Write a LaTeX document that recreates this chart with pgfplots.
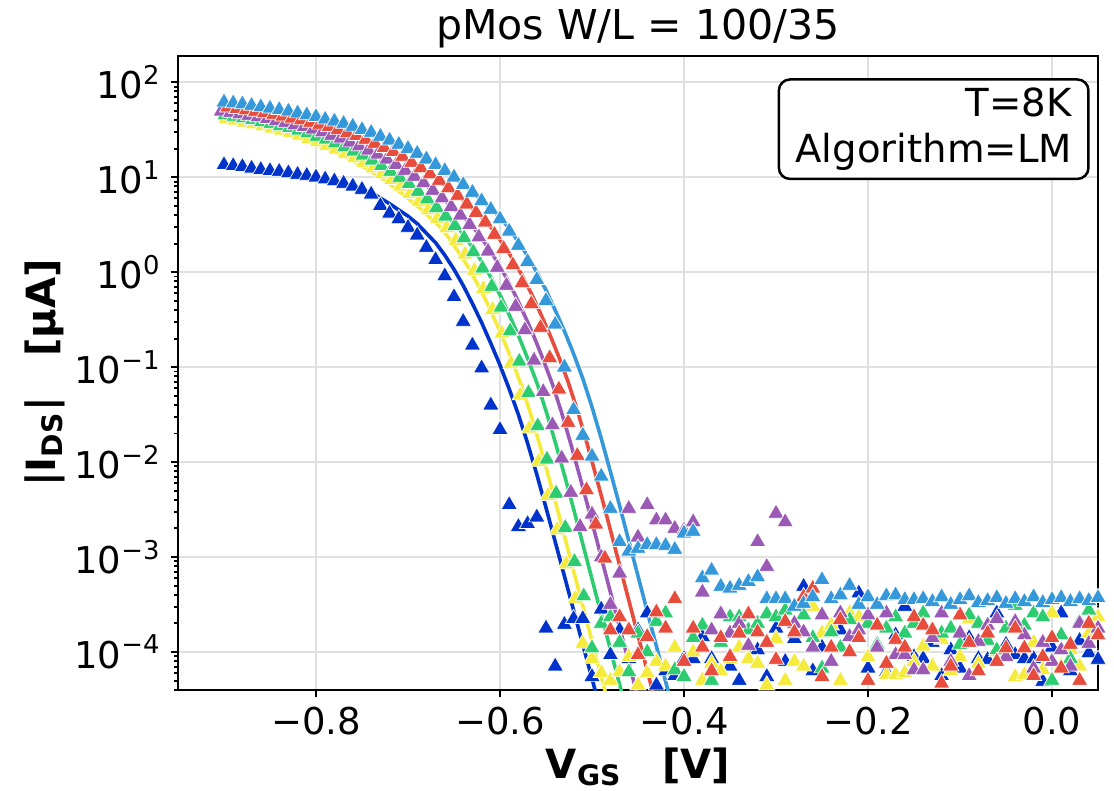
\documentclass[border=0pt]{standalone}
\usepackage{fontspec}
\setmainfont{DejaVu Sans}
\usepackage{pgfplots}
\pgfplotsset{compat=1.18}
\definecolor{cB}{RGB}{0,51,204}
\definecolor{cY}{RGB}{245,235,60}
\definecolor{cG}{RGB}{46,204,113}
\definecolor{cP}{RGB}{155,89,182}
\definecolor{cR}{RGB}{231,76,60}
\definecolor{cL}{RGB}{52,152,219}
\pgfplotsset{
  meas/.style={only marks, mark=triangle*, mark size=3.4pt, color=#1, mark options={solid, fill=#1, draw=white, line width=0.25pt}},
  fit/.style={no marks, color=#1, line width=1.3pt},
}
\begin{document}
\begin{tikzpicture}
\begin{axis}[name=ax, scale only axis, width=331.2pt, height=228.24pt,
  ymode=log, xmin=-0.95, xmax=0.05, ymin=3.98e-5, ymax=189,
  xtick={-0.8,-0.6,-0.4,-0.2,0}, xticklabels={−0.8,−0.6,−0.4,−0.2,0.0},
  ytick={1e-4,1e-3,1e-2,1e-1,1,10,100},
  yticklabels={10\textsuperscript{−4},10\textsuperscript{−3},10\textsuperscript{−2},10\textsuperscript{−1},10\textsuperscript{0},10\textsuperscript{1},10\textsuperscript{2}},
  minor ytick={4e-5,5e-5,6e-5,7e-5,8e-5,9e-5,2e-4,3e-4,4e-4,5e-4,6e-4,7e-4,8e-4,9e-4,2e-3,3e-3,4e-3,5e-3,6e-3,7e-3,8e-3,9e-3,2e-2,3e-2,4e-2,5e-2,6e-2,7e-2,8e-2,9e-2,0.2,0.3,0.4,0.5,0.6,0.7,0.8,0.9,2,3,4,5,6,7,8,9,20,30,40,50,60,70,80,90},
  tick align=outside, xtick pos=bottom, ytick pos=left,
  major tick length=2.6pt, minor tick length=1.5pt,
  every tick/.style={black, line width=0.7pt},
  grid=major, major grid style={black!12, line width=0.6pt},
  axis line style={black, line width=0.9pt},
  tick label style={font=\fontsize{13.3}{16}\selectfont},
  title={pMos W/L = 100/35},
  every axis title/.style={at={(axis description cs:0.5,1.044)}, anchor=center, font=\fontsize{14.8}{17}\selectfont},
  xlabel={\textbf{V\textsubscript{GS}\quad[V]}},
  ylabel={\textbf{|I\textsubscript{DS}|\quad[µA]}},
  every axis x label/.style={at={(axis description cs:0.5,-0.121)}, anchor=center, font=\fontsize{14.5}{17}\selectfont},
  every axis y label/.style={at={(axis description cs:-0.145,0.5)}, anchor=center, rotate=90, font=\fontsize{14.5}{17}\selectfont},
  clip=true,
]
% ---------- blue ----------
\addplot[meas=cB] coordinates {
(-0.90,13.5) (-0.89,13.2) (-0.88,12.9) (-0.87,12.4) (-0.86,12.0) (-0.85,11.7) (-0.84,11.5) (-0.83,11.1) (-0.82,10.7) (-0.81,10.4)
(-0.80,10.0) (-0.79,9.55) (-0.78,9.12) (-0.77,8.61) (-0.76,8.04) (-0.75,7.41) (-0.74,6.61) (-0.73,5.01) (-0.72,4.17) (-0.71,3.63)
(-0.70,2.95) (-0.69,2.45) (-0.68,1.82) (-0.67,1.35) (-0.66,0.912) (-0.65,0.550) (-0.64,0.302) (-0.63,0.170) (-0.62,0.0977) (-0.61,0.0398)
(-0.60,0.0219) (-0.59,3.55e-3) (-0.58,2.09e-3) (-0.57,2.24e-3) (-0.56,2.63e-3) (-0.55,1.78e-4) (-0.54,7.08e-5) (-0.53,1.95e-4) (-0.52,2.24e-4) (-0.51,2.24e-4)
(-0.50,5.50e-5) (-0.49,2.82e-4) (-0.48,9.33e-5) (-0.47,1.70e-4) (-0.46,8.51e-5) (-0.45,1.70e-4) (-0.44,2.57e-4) (-0.43,4.47e-5) (-0.42,6.31e-5) (-0.41,5.62e-5)
(-0.40,8.51e-5) (-0.39,8.51e-5) (-0.38,1.45e-4) (-0.37,8.51e-5) (-0.36,2.57e-4) (-0.35,7.08e-5) (-0.34,5.01e-5) (-0.33,1.12e-4) (-0.32,1.05e-4) (-0.31,5.50e-5)
(-0.30,1.78e-4) (-0.29,7.94e-5) (-0.28,1.38e-4) (-0.27,4.90e-4) (-0.26,6.31e-5) (-0.25,1.12e-4) (-0.24,7.94e-5) (-0.23,1.70e-4) (-0.22,1.00e-4) (-0.21,4.17e-4)
(-0.20,6.76e-5) (-0.19,1.20e-4) (-0.18,6.17e-5) (-0.17,1.51e-4) (-0.16,3.02e-4) (-0.15,8.91e-5) (-0.14,8.51e-5) (-0.13,1.26e-4) (-0.12,5.62e-5) (-0.11,1.05e-4)
(-0.10,6.76e-5) (-0.09,1.41e-4) (-0.08,8.51e-5) (-0.07,8.32e-5) (-0.06,2.57e-4) (-0.05,1.20e-4) (-0.04,9.33e-5) (-0.03,8.51e-5) (-0.02,8.51e-5) (-0.01,4.90e-5)
(0.00,1.12e-4) (0.01,2.57e-4) (0.02,6.31e-5) (0.03,1.32e-4) (0.04,9.77e-5) (0.05,8.32e-5)
};
\addplot[fit=cB] coordinates {
(-0.90,13.5) (-0.88,12.9) (-0.86,12.0) (-0.84,11.5) (-0.82,10.7) (-0.80,10.0) (-0.78,9.12) (-0.76,8.13) (-0.74,6.92) (-0.72,5.25)
(-0.70,3.89) (-0.69,3.24) (-0.68,2.57) (-0.67,2.04) (-0.66,1.51) (-0.65,1.07) (-0.64,0.724) (-0.63,0.468) (-0.62,0.295) (-0.61,0.178)
(-0.60,0.105) (-0.59,0.0589) (-0.58,0.0316) (-0.57,0.0158) (-0.56,7.41e-3) (-0.55,3.31e-3) (-0.54,1.45e-3) (-0.53,6.31e-4) (-0.52,2.75e-4) (-0.51,1.20e-4)
(-0.50,5.25e-5) (-0.49,2.29e-5)
};
% ---------- yellow ----------
\addplot[meas=cY] coordinates {
(-0.898,41.2) (-0.888,39.8) (-0.878,38.0) (-0.868,36.3) (-0.858,34.7) (-0.848,32.7) (-0.838,31.3) (-0.828,29.5) (-0.818,27.6) (-0.808,25.4)
(-0.798,23.7) (-0.788,21.6) (-0.778,19.7) (-0.768,17.8) (-0.758,16.1) (-0.748,14.3) (-0.738,12.5) (-0.728,10.9) (-0.718,9.41) (-0.708,8.04)
(-0.698,6.69) (-0.688,5.56) (-0.678,4.52) (-0.668,3.67) (-0.658,2.92) (-0.648,2.16) (-0.638,1.54) (-0.628,1.04) (-0.618,0.669) (-0.608,0.403)
(-0.598,0.227) (-0.588,0.109) (-0.578,0.0507) (-0.568,0.0227) (-0.558,0.0101) (-0.548,4.42e-3) (-0.538,1.93e-3) (-0.528,8.44e-4) (-0.518,3.67e-4)
(-0.51,1.23e-4) (-0.50,8.51e-5) (-0.49,6.03e-5) (-0.48,5.01e-5) (-0.47,6.17e-5) (-0.46,8.91e-5) (-0.45,4.47e-5) (-0.44,6.03e-5) (-0.43,7.94e-5) (-0.42,7.08e-5)
(-0.41,1.12e-4) (-0.40,5.62e-5) (-0.39,1.00e-4) (-0.38,5.01e-5) (-0.37,7.59e-5) (-0.36,6.31e-5) (-0.35,8.51e-5) (-0.34,1.12e-4) (-0.33,8.51e-5) (-0.32,7.59e-5)
(-0.31,4.47e-5) (-0.30,1.38e-4) (-0.29,5.01e-5) (-0.28,7.94e-5) (-0.27,7.08e-5) (-0.26,3.02e-4) (-0.25,1.58e-4) (-0.24,1.91e-4) (-0.23,5.01e-5) (-0.22,2.57e-4)
(-0.21,2.34e-4) (-0.20,8.91e-5) (-0.19,1.10e-4) (-0.18,5.75e-5) (-0.17,5.75e-5) (-0.16,6.03e-5) (-0.15,7.94e-5) (-0.14,1.15e-4) (-0.13,7.08e-5) (-0.12,1.35e-4)
(-0.11,6.31e-5) (-0.10,8.91e-5) (-0.09,2.24e-4) (-0.08,7.59e-5) (-0.07,1.58e-4) (-0.06,1.00e-4) (-0.05,1.78e-4) (-0.04,5.50e-5) (-0.03,5.75e-5) (-0.02,1.26e-4)
(-0.01,6.46e-5) (0.00,2.57e-4) (0.01,7.24e-5) (0.02,1.05e-4) (0.03,7.08e-5) (0.04,1.58e-4) (0.05,2.34e-4)
};
\addplot[fit=cY] coordinates {
(-0.900,39.9) (-0.866,34.7) (-0.846,31.3) (-0.826,27.6) (-0.806,23.7) (-0.786,19.7) (-0.766,16.1) (-0.746,12.5) (-0.726,9.41) (-0.706,6.69)
(-0.686,4.62) (-0.666,3.06) (-0.656,2.32) (-0.646,1.68) (-0.636,1.19) (-0.626,0.804) (-0.616,0.519) (-0.606,0.320) (-0.596,0.193) (-0.586,0.111)
(-0.576,0.0610) (-0.566,0.0306) (-0.556,0.0143) (-0.546,6.38e-3) (-0.536,2.79e-3) (-0.526,1.19e-3) (-0.516,5.07e-4) (-0.506,2.16e-4) (-0.496,9.25e-5) (-0.486,3.94e-5)
(-0.476,1.68e-5)
};
% ---------- green ----------
\addplot[meas=cG] coordinates {
(-0.899,45.2) (-0.889,43.7) (-0.879,42.1) (-0.869,40.3) (-0.859,38.5) (-0.849,36.8) (-0.839,34.6) (-0.829,33.1) (-0.819,31.2) (-0.809,29.2)
(-0.799,26.9) (-0.789,25.1) (-0.779,22.9) (-0.769,20.8) (-0.759,18.8) (-0.749,17.0) (-0.739,15.1) (-0.729,13.2) (-0.719,11.5) (-0.709,9.96)
(-0.699,8.51) (-0.689,7.08) (-0.679,5.89) (-0.669,4.78) (-0.659,3.89) (-0.649,3.09) (-0.639,2.29) (-0.629,1.63) (-0.619,1.10) (-0.609,0.708)
(-0.599,0.426) (-0.589,0.240) (-0.579,0.115) (-0.569,0.0537) (-0.559,0.0240) (-0.549,0.0107) (-0.539,4.68e-3) (-0.529,2.04e-3) (-0.519,8.94e-4) (-0.509,3.89e-4)
(-0.50,1.10e-4) (-0.49,2.00e-4) (-0.48,2.34e-4) (-0.47,1.26e-4) (-0.46,6.17e-5) (-0.45,1.58e-4) (-0.44,1.00e-4) (-0.43,2.09e-4) (-0.42,2.57e-4) (-0.41,6.46e-5)
(-0.40,5.50e-5) (-0.39,1.41e-4) (-0.38,1.91e-4) (-0.37,5.01e-5) (-0.36,1.26e-4) (-0.35,2.34e-4) (-0.34,2.34e-4) (-0.33,1.70e-4) (-0.32,2.00e-4) (-0.31,2.51e-4)
(-0.30,2.34e-4) (-0.29,2.75e-4) (-0.28,1.58e-4) (-0.27,2.45e-4) (-0.26,1.41e-4) (-0.25,6.76e-5) (-0.24,1.62e-4) (-0.23,1.12e-4) (-0.22,2.19e-4) (-0.21,1.38e-4)
(-0.20,2.00e-4) (-0.19,1.20e-4) (-0.18,1.78e-4) (-0.17,2.34e-4) (-0.16,1.58e-4) (-0.15,2.00e-4) (-0.14,2.57e-4) (-0.13,1.41e-4) (-0.12,1.58e-4) (-0.11,1.78e-4)
(-0.10,1.20e-4) (-0.09,2.45e-4) (-0.08,2.00e-4) (-0.07,1.32e-4) (-0.06,1.05e-4) (-0.05,1.78e-4) (-0.04,3.09e-4) (-0.03,1.91e-4) (-0.02,2.57e-4) (-0.01,2.34e-4)
(0.00,5.01e-5) (0.01,1.51e-4) (0.02,8.51e-5) (0.03,2.09e-4) (0.04,2.75e-4) (0.05,1.78e-4)
};
\addplot[fit=cG] coordinates {
(-0.900,44.8) (-0.869,39.8) (-0.849,36.8) (-0.829,33.1) (-0.809,29.2) (-0.789,25.1) (-0.769,20.8) (-0.749,17.0) (-0.729,13.2) (-0.709,9.96)
(-0.689,7.08) (-0.669,4.89) (-0.649,3.23) (-0.639,2.45) (-0.629,1.78) (-0.619,1.26) (-0.609,0.851) (-0.599,0.550) (-0.589,0.339) (-0.579,0.204)
(-0.569,0.117) (-0.559,0.0646) (-0.549,0.0323) (-0.539,0.0151) (-0.529,6.76e-3) (-0.519,2.95e-3) (-0.509,1.26e-3) (-0.499,5.37e-4) (-0.489,2.29e-4) (-0.479,9.79e-5)
(-0.469,4.17e-5) (-0.459,1.78e-5)
};
% ---------- purple ----------
\addplot[meas=cP] coordinates {
(-0.903,49.6) (-0.893,47.9) (-0.883,46.3) (-0.873,44.7) (-0.863,43.1) (-0.853,41.2) (-0.843,39.4) (-0.833,37.6) (-0.823,35.4) (-0.813,33.9)
(-0.803,32.0) (-0.793,29.9) (-0.783,27.5) (-0.773,25.7) (-0.763,23.4) (-0.753,21.3) (-0.743,19.2) (-0.733,17.4) (-0.723,15.5) (-0.713,13.5)
(-0.703,11.8) (-0.693,10.2) (-0.683,8.71) (-0.673,7.25) (-0.663,6.03) (-0.653,4.90) (-0.643,3.98) (-0.633,3.16) (-0.623,2.34) (-0.613,1.66)
(-0.603,1.12) (-0.593,0.725) (-0.583,0.436) (-0.573,0.246) (-0.563,0.118) (-0.553,0.0550) (-0.543,0.0246) (-0.533,0.0110) (-0.523,4.79e-3) (-0.513,2.09e-3)
(-0.50,2.82e-3) (-0.49,1.00e-3) (-0.48,3.16e-4) (-0.47,6.76e-4) (-0.46,3.24e-3) (-0.45,1.62e-3) (-0.44,3.55e-3) (-0.43,2.45e-3) (-0.42,2.45e-3) (-0.41,2.00e-3)
(-0.40,1.91e-3) (-0.39,2.34e-3) (-0.38,4.27e-4) (-0.37,1.70e-4) (-0.36,2.51e-4) (-0.35,1.58e-4) (-0.34,2.00e-4) (-0.33,1.17e-4) (-0.32,1.45e-3) (-0.31,7.94e-4)
(-0.30,2.88e-3) (-0.29,2.34e-3) (-0.28,2.00e-4) (-0.27,1.62e-4) (-0.26,1.12e-4) (-0.25,2.45e-4) (-0.24,7.94e-5) (-0.23,2.57e-4) (-0.22,1.45e-4) (-0.21,1.70e-4)
(-0.20,2.45e-4) (-0.19,1.12e-4) (-0.18,2.57e-4) (-0.17,9.33e-5) (-0.16,9.33e-5) (-0.15,6.46e-5) (-0.14,6.46e-5) (-0.13,1.41e-4) (-0.12,2.57e-4) (-0.11,7.94e-5)
(-0.10,1.58e-4) (-0.09,5.62e-5) (-0.08,1.29e-4) (-0.07,1.91e-4) (-0.06,2.24e-4) (-0.05,8.91e-5) (-0.04,2.09e-4) (-0.03,1.51e-4) (-0.02,6.76e-5) (-0.01,1.26e-4)
(0.00,7.94e-5) (0.01,1.05e-4) (0.02,7.08e-5) (0.03,2.00e-4) (0.04,1.23e-4) (0.05,1.78e-4)
};
\addplot[fit=cP] coordinates {
(-0.900,48.3) (-0.873,44.2) (-0.853,40.8) (-0.833,37.6) (-0.813,33.9) (-0.793,29.9) (-0.773,25.7) (-0.753,21.3) (-0.733,17.4) (-0.713,13.5)
(-0.693,10.2) (-0.673,7.25) (-0.653,5.01) (-0.633,3.31) (-0.623,2.51) (-0.613,1.82) (-0.603,1.29) (-0.593,0.871) (-0.583,0.563) (-0.573,0.347)
(-0.563,0.209) (-0.553,0.120) (-0.543,0.0661) (-0.533,0.0331) (-0.523,0.0155) (-0.513,6.92e-3) (-0.503,3.02e-3) (-0.493,1.29e-3) (-0.483,5.50e-4) (-0.473,2.34e-4)
(-0.463,1.00e-4) (-0.453,4.27e-5) (-0.443,1.82e-5)
};
% ---------- red ----------
\addplot[meas=cR] coordinates {
(-0.896,54.5) (-0.886,52.6) (-0.876,50.9) (-0.866,49.1) (-0.856,47.5) (-0.846,45.8) (-0.836,43.8) (-0.826,41.8) (-0.816,40.0) (-0.806,37.6)
(-0.796,36.0) (-0.786,33.9) (-0.776,31.7) (-0.766,29.2) (-0.756,27.3) (-0.746,24.9) (-0.736,22.7) (-0.726,20.4) (-0.716,18.5) (-0.706,16.5)
(-0.696,14.3) (-0.686,12.5) (-0.676,10.8) (-0.666,9.25) (-0.656,7.70) (-0.646,6.40) (-0.636,5.20) (-0.626,4.23) (-0.616,3.36) (-0.606,2.49)
(-0.596,1.77) (-0.586,1.19) (-0.576,0.770) (-0.566,0.463) (-0.556,0.261) (-0.546,0.125) (-0.536,0.0584) (-0.526,0.0261) (-0.516,0.0117) (-0.506,5.09e-3)
(-0.496,2.22e-3) (-0.486,9.71e-4)
(-0.48,1.70e-4) (-0.47,2.34e-4) (-0.46,1.70e-4) (-0.45,9.33e-5) (-0.44,1.45e-4) (-0.43,2.63e-4) (-0.42,1.78e-4) (-0.41,3.63e-4) (-0.40,7.94e-5) (-0.39,1.78e-4)
(-0.38,1.12e-4) (-0.37,6.31e-5) (-0.36,1.41e-4) (-0.35,8.91e-5) (-0.34,1.58e-4) (-0.33,2.51e-4) (-0.32,1.62e-4) (-0.31,1.26e-4) (-0.30,8.32e-5) (-0.29,2.09e-4)
(-0.28,1.62e-4) (-0.27,3.80e-4) (-0.26,4.68e-4) (-0.25,5.50e-5) (-0.24,1.12e-4) (-0.23,2.19e-4) (-0.22,1.00e-4) (-0.21,1.41e-4) (-0.20,5.01e-5) (-0.19,1.91e-4)
(-0.18,7.59e-5) (-0.17,1.35e-4) (-0.16,1.12e-4) (-0.15,2.34e-4) (-0.14,1.91e-4) (-0.13,1.70e-4) (-0.12,4.68e-5) (-0.11,7.08e-5) (-0.10,2.45e-4) (-0.09,1.26e-4)
(-0.08,6.31e-5) (-0.07,1.58e-4) (-0.06,7.94e-5) (-0.05,1.10e-4) (-0.04,1.78e-4) (-0.03,1.10e-4) (-0.02,5.62e-5) (-0.01,8.91e-5) (0.00,1.41e-4) (0.01,6.76e-5)
(0.02,1.20e-4) (0.03,5.01e-5) (0.04,2.00e-4) (0.05,1.51e-4)
};
\addplot[fit=cR] coordinates {
(-0.900,53.7) (-0.876,50.2) (-0.856,46.9) (-0.836,43.3) (-0.816,40.0) (-0.796,36.0) (-0.776,31.7) (-0.756,27.3) (-0.736,22.7) (-0.716,18.5)
(-0.696,14.3) (-0.676,10.8) (-0.656,7.70) (-0.636,5.32) (-0.616,3.52) (-0.606,2.66) (-0.596,1.93) (-0.586,1.37) (-0.576,0.925) (-0.566,0.598)
(-0.556,0.368) (-0.546,0.222) (-0.536,0.128) (-0.526,0.0702) (-0.516,0.0352) (-0.506,0.0165) (-0.496,7.34e-3) (-0.486,3.21e-3) (-0.476,1.37e-3) (-0.466,5.84e-4)
(-0.456,2.49e-4) (-0.446,1.06e-4) (-0.436,4.53e-5) (-0.426,1.93e-5)
};
% ---------- light blue ----------
\addplot[meas=cL] coordinates {
(-0.90,61.7) (-0.89,60.3) (-0.88,58.9) (-0.87,56.9) (-0.86,55.0) (-0.85,53.1) (-0.84,51.3) (-0.83,49.5) (-0.82,47.3) (-0.81,45.2)
(-0.80,43.2) (-0.79,40.7) (-0.78,38.9) (-0.77,36.7) (-0.76,34.3) (-0.75,31.6) (-0.74,29.5) (-0.73,26.9) (-0.72,24.5) (-0.71,22.1)
(-0.70,20.0) (-0.69,17.8) (-0.68,15.5) (-0.67,13.5) (-0.66,11.7) (-0.65,10.0) (-0.64,8.32) (-0.63,6.92) (-0.62,5.62) (-0.61,4.57)
(-0.60,3.63) (-0.59,2.69) (-0.58,1.91) (-0.57,1.29) (-0.56,0.832) (-0.55,0.501) (-0.54,0.282) (-0.53,0.100) (-0.52,0.0355) (-0.51,0.0191)
(-0.50,0.0115) (-0.49,7.08e-3) (-0.48,3.24e-3) (-0.47,1.45e-3) (-0.46,1.15e-3) (-0.45,1.23e-3) (-0.44,1.35e-3) (-0.43,1.35e-3) (-0.42,1.32e-3) (-0.41,1.20e-3)
(-0.40,1.78e-3) (-0.39,1.86e-3) (-0.38,6.03e-4) (-0.37,7.24e-4) (-0.36,4.90e-4) (-0.35,4.68e-4) (-0.34,5.01e-4) (-0.33,5.50e-4) (-0.32,6.17e-4) (-0.31,3.63e-4)
(-0.30,3.63e-4) (-0.29,3.63e-4) (-0.28,3.02e-4) (-0.27,3.24e-4) (-0.26,3.80e-4) (-0.25,5.75e-4) (-0.24,3.63e-4) (-0.23,3.98e-4) (-0.22,5.01e-4) (-0.21,3.16e-4)
(-0.20,3.80e-4) (-0.19,3.16e-4) (-0.18,3.89e-4) (-0.17,3.98e-4) (-0.16,3.55e-4) (-0.15,3.55e-4) (-0.14,3.63e-4) (-0.13,3.39e-4) (-0.12,3.80e-4) (-0.11,3.16e-4)
(-0.10,3.55e-4) (-0.09,3.89e-4) (-0.08,3.31e-4) (-0.07,3.47e-4) (-0.06,3.72e-4) (-0.05,3.24e-4) (-0.04,3.63e-4) (-0.03,3.39e-4) (-0.02,3.80e-4) (-0.01,3.31e-4)
(0.00,3.55e-4) (0.01,3.72e-4) (0.02,3.39e-4) (0.03,3.63e-4) (0.04,3.47e-4) (0.05,3.72e-4)
};
\addplot[fit=cL] coordinates {
(-0.90,60.3) (-0.88,57.5) (-0.86,54.3) (-0.84,50.7) (-0.82,46.8) (-0.80,43.2) (-0.78,38.9) (-0.76,34.3) (-0.74,29.5) (-0.72,24.5)
(-0.70,20.0) (-0.68,15.5) (-0.66,11.7) (-0.64,8.32) (-0.62,5.75) (-0.60,3.80) (-0.59,2.88) (-0.58,2.09) (-0.57,1.48) (-0.56,1.00)
(-0.55,0.646) (-0.54,0.398) (-0.53,0.240) (-0.52,0.138) (-0.51,0.0759) (-0.50,0.0380) (-0.49,0.0178) (-0.48,7.94e-3) (-0.47,3.47e-3) (-0.46,1.48e-3)
(-0.45,6.31e-4) (-0.44,2.69e-4) (-0.43,1.15e-4) (-0.42,4.90e-5) (-0.41,2.09e-5)
};
\node[draw=black, line width=0.9pt, rounded corners=4pt, fill=white, anchor=north east, align=right,
  font=\fontsize{13.9}{16.6}\selectfont, inner xsep=6pt, inner ysep=3pt] at (rel axis cs:0.991,0.965) {T=8K\\Algorithm=LM};
\end{axis}
\pgfresetboundingbox
\path[use as bounding box] ([xshift=-64.08pt,yshift=-36.36pt]ax.south west) rectangle ([xshift=5.76pt,yshift=20.16pt]ax.north east);
\end{tikzpicture}
\end{document}
